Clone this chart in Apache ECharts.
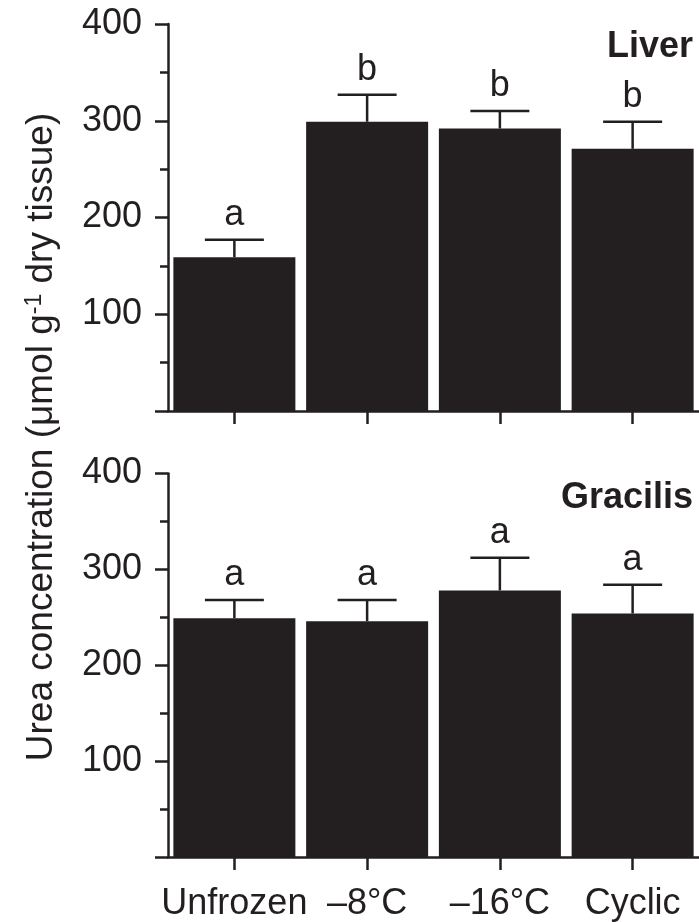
<!DOCTYPE html>
<html>
<head>
<meta charset="utf-8">
<script src="https://cdn.jsdelivr.net/npm/echarts@6/dist/echarts.min.js"></script>
<style>
html,body{margin:0;padding:0;background:#fff;}
#chart{width:699px;height:922px;}
</style>
</head>
<body>
<div id="chart"></div>
<script>
var categories = ['Unfrozen', '\u20138\u00B0C', '\u201316\u00B0C', 'Cyclic'];
var yTicks = [0, 100, 200, 300, 400];
var liverMean = [159, 299, 292, 271];
var liverSE = [18, 28, 18, 28];
var liverLetters = ['a', 'b', 'b', 'b'];
var gracilisMean = [249, 246, 278, 254];
var gracilisSE = [19, 22, 34, 30];
var gracilisLetters = ['a', 'a', 'a', 'a'];

var INK = '#231f20';
var FONT = 'Liberation Sans, Arial, sans-serif';
var FS = 36;

function yAxisCfg(idx) {
  return {
    type: 'value', gridIndex: idx, min: yTicks[0], max: yTicks[yTicks.length - 1], interval: 100,
    axisLine: {show: true, lineStyle: {color: INK, width: 2.5}},
    axisTick: {show: true, inside: false, length: 13, lineStyle: {color: INK, width: 2.5}},
    minorTick: {show: true, splitNumber: 2, length: 8, lineStyle: {color: INK, width: 2.5}},
    splitLine: {show: false},
    axisLabel: {margin: 26, color: INK, fontSize: FS, fontFamily: FONT,
      formatter: function (v) { return v === 0 ? '' : String(v); }}
  };
}
function xAxisCfg(idx, showLabel) {
  return {
    type: 'category', gridIndex: idx, data: categories,
    axisLine: {show: true, lineStyle: {color: INK, width: 2.5}},
    axisTick: {show: true, alignWithLabel: true, length: 13, lineStyle: {color: INK, width: 2.5}},
    axisLabel: {show: showLabel, margin: 29, color: INK, fontSize: FS, fontFamily: FONT, interval: 0},
    splitLine: {show: false}
  };
}
var lettersBySeries = {2: liverLetters, 3: gracilisLetters};
function errData(mean, se) {
  return mean.map(function (m, i) { return [i, m, m + se[i]]; });
}
function errRender(params, api) {
  var x = api.value(0);
  var lo = api.coord([x, api.value(1)]);
  var hi = api.coord([x, api.value(2)]);
  var letter = lettersBySeries[params.seriesIndex][params.dataIndex];
  var half = 29.5;
  return {
    type: 'group',
    children: [
      {type: 'line', shape: {x1: lo[0], y1: lo[1], x2: hi[0], y2: hi[1]}, style: {stroke: INK, lineWidth: 2.5}},
      {type: 'line', shape: {x1: hi[0] - half, y1: hi[1], x2: hi[0] + half, y2: hi[1]}, style: {stroke: INK, lineWidth: 2.5}},
      {type: 'text', x: hi[0], y: hi[1] - 7, style: {text: letter, fill: INK, font: FS + 'px ' + FONT, textAlign: 'center', textVerticalAlign: 'bottom'}}
    ]
  };
}

var chart = echarts.init(document.getElementById('chart'));
chart.setOption({
  backgroundColor: '#fff',
  animation: false,
  grid: [
    {left: 168, top: 24, width: 532, height: 387},
    {left: 168, top: 473.5, width: 532, height: 387}
  ],
  xAxis: [xAxisCfg(0, false), xAxisCfg(1, true)],
  yAxis: [yAxisCfg(0), yAxisCfg(1)],
  series: [
    {type: 'bar', xAxisIndex: 0, yAxisIndex: 0, data: liverMean, barWidth: 122, itemStyle: {color: INK}, silent: true},
    {type: 'bar', xAxisIndex: 1, yAxisIndex: 1, data: gracilisMean, barWidth: 122, itemStyle: {color: INK}, silent: true},
    {type: 'custom', xAxisIndex: 0, yAxisIndex: 0, data: errData(liverMean, liverSE), renderItem: errRender, z: 5, clip: false},
    {type: 'custom', xAxisIndex: 1, yAxisIndex: 1, data: errData(gracilisMean, gracilisSE), renderItem: errRender, z: 5, clip: false}
  ],
  graphic: [
    {type: 'text', right: 6, top: 29, style: {text: 'Liver', fill: INK, font: 'bold 36px ' + FONT}},
    {type: 'text', right: 6, top: 480, style: {text: 'Gracilis', fill: INK, font: 'bold 36px ' + FONT}},
    {type: 'text', x: 42, y: 437, rotation: Math.PI / 2,
      style: {
        text: '{a|Urea concentration (\u03BCmol g}{s|-1}{a| dry tissue)}',
        textAlign: 'center', textVerticalAlign: 'middle',
        rich: {
          a: {fontSize: 37, fontFamily: FONT, fill: INK, color: INK},
          s: {fontSize: 23, fontFamily: FONT, fill: INK, color: INK, verticalAlign: 'top', padding: [0, 0, 15, 0]}
        }
      }}
  ]
});
</script>
</body>
</html>
